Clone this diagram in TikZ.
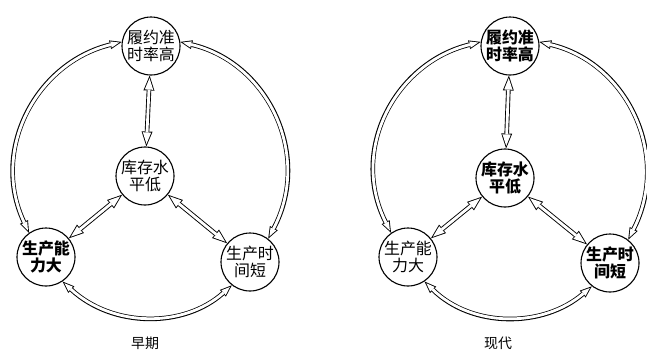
\documentclass[tikz,border=0pt]{standalone}
\usepackage{fontspec}
\setmainfont{Noto Sans CJK SC}
\usetikzlibrary{arrows.meta}
% a hollow arrow: a wide black stroke, then a narrower white stroke on top
\newcommand\twinpath[2]{%
  \draw[#1 outer] #2;
  \draw[#1 inner] #2;}
\begin{document}
\begin{tikzpicture}[x=1bp,y=-1bp,
  stage/.style={circle, draw, line width=1.1bp, minimum size=58bp, inner sep=0pt,
    font=\fontsize{16}{17}\selectfont, align=center},
  strong/.style={font=\fontsize{16}{17}\selectfont\bfseries},
  spoke outer/.style={line width=4.6bp, black,
    {Triangle[length=15bp,width=11bp,line width=0pt]}-{Triangle[length=15bp,width=11bp,line width=0pt]}},
  spoke inner/.style={line width=2.8bp, white, shorten <=2.6bp, shorten >=2.6bp,
    {Triangle[length=11.5bp,width=8.4bp,line width=0pt]}-{Triangle[length=11.5bp,width=8.4bp,line width=0pt]}},
  ring outer/.style={line width=4.6bp, black,
    {Triangle[length=12bp,width=9bp,line width=0pt]}-{Triangle[length=12bp,width=9bp,line width=0pt]}},
  ring inner/.style={line width=2.8bp, white, shorten <=2.56bp, shorten >=2.56bp,
    {Triangle[length=8.5bp,width=6.4bp,line width=0pt]}-{Triangle[length=8.5bp,width=6.4bp,line width=0pt]}},
  caption/.style={font=\fontsize{14}{15}\selectfont}]
\useasboundingbox (0,0) rectangle (647,353);

% early stage
\node[stage] (t1) at (151,46) {履约准\\时率高};
\node[stage] (c1) at (145,176) {库存水\\平低};
\node[stage,strong] (l1) at (46,257) {生产能\\力大};
\node[stage] (r1) at (250,262) {生产时\\间短};
\twinpath{spoke}{(t1) -- (c1)}
\twinpath{spoke}{(c1) -- (l1)}
\twinpath{spoke}{(c1) -- (r1)}
\twinpath{ring}{(l1.125) .. controls (-10,150) and (36,63) .. (t1.172)}
\twinpath{ring}{(t1.8) .. controls (269,63) and (312,156) .. (r1.52)}
\twinpath{ring}{(l1.304) .. controls (113,328) and (184,328) .. (r1.232)}
\node[caption] (cap1) at (145,343) {早期};

% modern stage
\begin{scope}[xshift=359bp]
\node[stage,strong] (t2) at (151,46) {履约准\\时率高};
\node[stage,strong] (c2) at (146,178) {库存水\\平低};
\node[stage] (l2) at (49,257) {生产能\\力大};
\node[stage,strong] (r2) at (251,263) {生产时\\间短};
\twinpath{spoke}{(t2) -- (c2)}
\twinpath{spoke}{(c2) -- (l2)}
\twinpath{spoke}{(c2) -- (r2)}
\twinpath{ring}{(l2.125) .. controls (-10,150) and (36,63) .. (t2.172)}
\twinpath{ring}{(t2.8) .. controls (269,63) and (312,156) .. (r2.52)}
\twinpath{ring}{(l2.304) .. controls (113,328) and (184,328) .. (r2.232)}
\end{scope}
\node[caption] (cap2) at (498,343) {现代};
\end{tikzpicture}
\end{document}
